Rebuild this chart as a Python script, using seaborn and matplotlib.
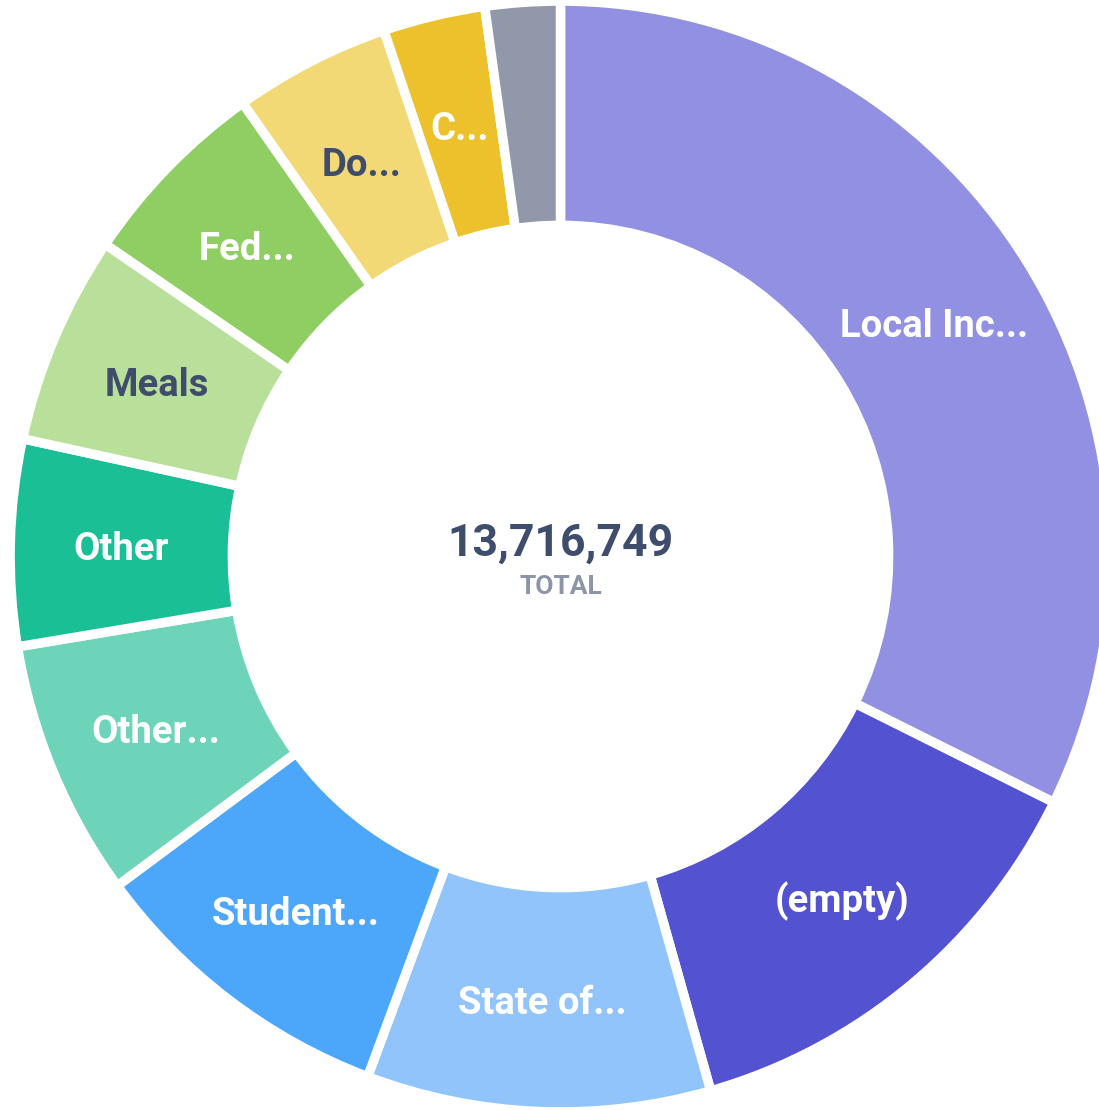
import numpy as np
import matplotlib
matplotlib.use("Agg")
import matplotlib.pyplot as plt
import seaborn as sns

# data (clockwise from 12 o'clock)
labels = ["Local Inc...", "(empty)", "State of...", "Student...", "Other...",
          "Other", "Meals", "Fed...", "Do...", "C...", ""]
values = [4431000, 1824000, 1385000, 1262000, 1029000,
          823000, 837000, 782000, 631000, 411000, 301749]
colors = ["#9190e2", "#5352d1", "#90c4fb", "#4ca7fb", "#6dd4b9",
          "#1bbf95", "#b9e09a", "#8fce62", "#f3d876", "#ecc12c", "#9098aa"]
text_colors = ["white", "white", "white", "white", "white",
               "white", "#3f4d6b", "white", "#3f4d6b", "white", "white"]

sns.set_theme(style="white")
plt.rcParams["font.family"] = ["Roboto", "DejaVu Sans"]

fig = plt.figure(figsize=(10.99, 11.10), dpi=100)
ax = fig.add_axes([0, 0, 1, 1])

r_out = 1.008
r_in = 0.601
wedges, _ = ax.pie(values, colors=colors, startangle=90, counterclock=False,
                   radius=r_out,
                   wedgeprops=dict(width=r_out - r_in, edgecolor="white",
                                   linewidth=6.8))

r_lab = (r_out + r_in) / 2
for w, lab, tc in zip(wedges, labels, text_colors):
    if not lab:
        continue
    ang = np.deg2rad((w.theta1 + w.theta2) / 2)
    ax.text(r_lab * np.cos(ang), r_lab * np.sin(ang), lab,
            ha="center", va="center_baseline", color=tc, fontsize=27.5,
            fontweight="bold")

total = sum(values)
ax.text(0, 0.032, f"{total:,}", ha="center", va="center_baseline",
        color="#3d4d6b", fontsize=32, fontweight="bold")
ax.text(0, -0.051, "TOTAL", ha="center", va="center_baseline",
        color="#8c95a6", fontsize=19, fontweight="bold")

# slightly stretched, off-centre framing as in the reference
ax.set_xlim(-560.5 / 546, (1099 - 560.5) / 546)
ax.set_ylim(-(1110 - 556.5) / 551, 556.5 / 551)
ax.set_aspect("auto")
ax.axis("off")

fig.savefig("out.png", dpi=100, facecolor="white")
